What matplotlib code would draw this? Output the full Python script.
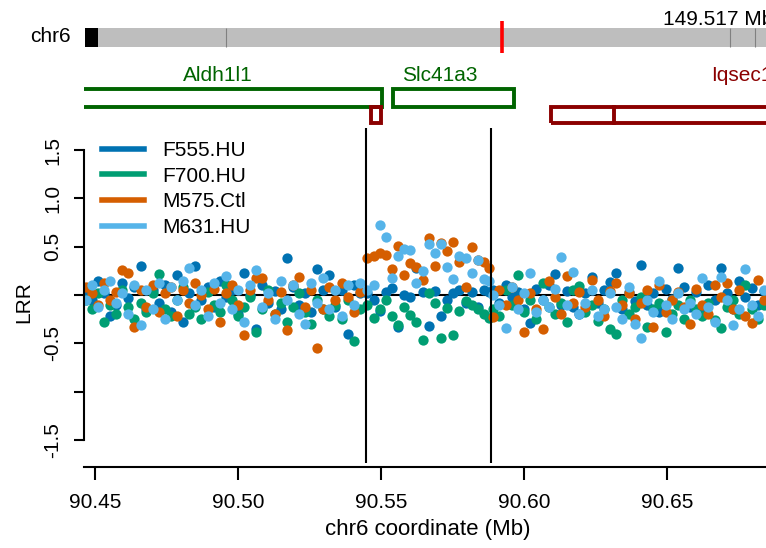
import matplotlib
matplotlib.use("Agg")
from matplotlib import pyplot as plt
from matplotlib.patches import Rectangle
from matplotlib.lines import Line2D
import numpy as np

plt.rcParams['font.family'] = ['Liberation Sans', 'DejaVu Sans']

# probe positions (Mb) on chr6
pos = [90.4468, 90.4489, 90.4511, 90.4530, 90.4553, 90.4574, 90.4594, 90.4617, 90.4638, 90.4660,
       90.4679, 90.4702, 90.4723, 90.4745, 90.4764, 90.4787, 90.4808, 90.4830, 90.4851, 90.4871,
       90.4894, 90.4915, 90.4936, 90.4957, 90.4979, 90.5000, 90.5021, 90.5043, 90.5064, 90.5085,
       90.5106, 90.5128, 90.5149, 90.5170, 90.5192, 90.5213, 90.5234, 90.5255, 90.5277, 90.5298,
       90.5319, 90.5340, 90.5362, 90.5383, 90.5404, 90.5425,
       90.5452, 90.5474, 90.5495, 90.5517, 90.5538, 90.5560, 90.5581, 90.5603, 90.5624, 90.5646,
       90.5667, 90.5689, 90.5710, 90.5731, 90.5753, 90.5774, 90.5796, 90.5817, 90.5839, 90.5860,
       90.5879,
       90.5893, 90.5914, 90.5936, 90.5957, 90.5979, 90.6000, 90.6022, 90.6043, 90.6065, 90.6086,
       90.6108, 90.6129, 90.6151, 90.6172, 90.6194, 90.6215, 90.6237, 90.6258, 90.6280, 90.6301,
       90.6323, 90.6344, 90.6366, 90.6387, 90.6409, 90.6430, 90.6452, 90.6473, 90.6495, 90.6516,
       90.6538, 90.6559, 90.6581, 90.6602, 90.6624, 90.6645, 90.6667, 90.6688, 90.6710, 90.6731,
       90.6753, 90.6774, 90.6796, 90.6817, 90.6839]

# log R ratio per sample
f555 = [0.05, -0.05, 0.15, 0.02, -0.22, -0.10, 0.12, -0.03, 0.08, 0.30,
        -0.15, 0.05, -0.08, 0.10, -0.18, 0.21, -0.28, 0.02, 0.30, -0.05,
        0.08, -0.12, 0.15, -0.02, 0.05, -0.20, 0.23, 0.00, -0.35, 0.10,
        -0.08, 0.04, -0.15, 0.38, 0.08, -0.10, 0.02, -0.18, 0.27, 0.05,
        0.21, -0.12, 0.05, -0.40, 0.10, 0.02,
        0.02, -0.05, -0.17, 0.03, 0.07, -0.33, 0.00, -0.02, 0.28, 0.03,
        -0.32, 0.04, -0.22, -0.05, 0.02, 0.05, -0.08, 0.03, -0.12, 0.05,
        0.03,
        0.05, -0.08, 0.10, -0.02, 0.03, -0.15, -0.29, 0.06, -0.05, 0.10,
        0.22, -0.10, 0.04, -0.12, -0.20, 0.02, 0.19, -0.08, 0.05, 0.13,
        0.23, -0.15, 0.03, -0.06, 0.31, -0.10, 0.02, -0.18, 0.06, -0.04,
        0.28, 0.08, -0.12, 0.03, -0.20, 0.10, -0.05, 0.28, 0.02, -0.14,
        0.14, -0.02, 0.07, -0.10, 0.04]
f700 = [-0.05, -0.15, 0.02, -0.28, -0.10, -0.20, 0.05, -0.12, -0.25, -0.08,
        -0.18, 0.02, 0.22, -0.15, -0.22, -0.05, 0.08, -0.20, -0.12, -0.25,
        0.03, -0.10, -0.18, 0.10, -0.05, -0.22, -0.12, -0.02, -0.38, -0.15,
        0.05, -0.20, -0.08, -0.28, -0.12, 0.02, -0.18, -0.30, -0.05, -0.15,
        -0.22, -0.10, -0.25, -0.05, -0.48, -0.15,
        -0.10, -0.24, -0.15, -0.05, -0.22, -0.31, -0.12, -0.21, -0.28, -0.47,
        0.02, -0.08, -0.45, -0.13, -0.41, -0.17, -0.06, -0.10, -0.14, -0.20,
        -0.24,
        -0.15, -0.22, 0.05, -0.10, 0.21, -0.18, -0.05, -0.25, 0.12, -0.12,
        -0.20, -0.08, -0.28, 0.05, 0.09, -0.18, -0.10, -0.27, -0.15, -0.35,
        -0.40, -0.05, -0.20, -0.12, -0.02, -0.33, -0.15, -0.08, -0.38, -0.20,
        -0.10, -0.25, -0.05, -0.15, -0.22, -0.08, -0.26, -0.34, -0.12, -0.05,
        -0.20, 0.10, -0.15, -0.25, -0.10]
m575 = [0.08, 0.02, -0.10, 0.12, -0.05, 0.03, 0.26, 0.23, -0.33, 0.05,
        -0.12, 0.10, -0.18, 0.02, 0.08, -0.22, 0.05, -0.08, 0.12, 0.00,
        -0.15, 0.06, -0.28, 0.02, 0.10, -0.10, -0.41, 0.05, 0.18, 0.18,
        -0.05, -0.20, 0.03, -0.36, 0.10, 0.19, -0.12, 0.05, -0.55, -0.15,
        0.08, -0.05, 0.12, -0.02, -0.18, 0.03,
        0.38, 0.40, 0.43, 0.41, 0.27, 0.51, 0.21, 0.33, 0.29, 0.16,
        0.59, 0.30, 0.54, 0.46, 0.55, 0.34, 0.08, 0.50, 0.36, 0.34,
        0.28,
        -0.23, 0.05, -0.10, 0.08, -0.05, -0.38, 0.02, -0.15, -0.35, 0.15,
        -0.02, -0.20, 0.20, -0.08, 0.03, -0.12, 0.16, -0.05, -0.22, 0.04,
        0.12, -0.10, 0.02, -0.25, -0.08, 0.05, -0.33, 0.10, -0.18, -0.05,
        0.03, -0.12, -0.30, 0.06, -0.10, -0.20, 0.10, -0.02, 0.12, -0.15,
        0.05, -0.22, -0.29, 0.16, -0.05]
m631 = [-0.05, 0.10, -0.12, 0.05, 0.15, -0.08, 0.02, -0.20, 0.10, -0.31,
        0.05, -0.15, 0.12, -0.25, 0.08, -0.05, 0.15, 0.28, -0.10, 0.05,
        -0.22, 0.12, -0.08, 0.20, -0.15, 0.05, -0.28, 0.10, 0.26, -0.12,
        0.02, -0.25, 0.15, -0.05, 0.10, -0.20, -0.30, 0.12, -0.08, 0.18,
        -0.15, 0.05, -0.22, 0.10, -0.10, 0.12,
        0.05, 0.10, 0.72, 0.60, 0.18, 0.40, 0.48, 0.47, 0.12, 0.25,
        0.53, 0.43, 0.53, 0.29, 0.17, 0.40, 0.38, 0.23, 0.36, 0.17,
        0.15,
        0.00, -0.10, -0.34, 0.08, -0.15, 0.02, 0.23, -0.18, -0.05, -0.12,
        0.06, 0.39, -0.10, 0.24, -0.20, -0.08, 0.05, -0.22, -0.15, 0.02,
        -0.12, -0.25, 0.08, -0.30, -0.44, -0.05, -0.18, 0.14, -0.10, -0.25,
        0.02, -0.15, -0.08, -0.20, 0.18, -0.12, -0.28, 0.19, -0.05, -0.31,
        -0.15, 0.27, -0.10, -0.22, 0.05]

samples = ['F555.HU', 'F700.HU', 'M575.Ctl', 'M631.HU']
colors = ['#0072B2', '#009E73', '#D55E00', '#56B4E9']

# genes: name, start, end, colour, row
genes = [('Aldh1l1', 90.4400, 90.5503, '#006400', 1),
         ('Slc41a3', 90.5542, 90.5965, '#006400', 1),
         ('', 90.5465, 90.5500, '#8B0000', 0),
         ('Iqsec1', 90.6094, 90.7400, '#8B0000', 0)]
iqsec_split = 90.6315
gene_label_x = {'Aldh1l1': 90.4930, 'Slc41a3': 90.5705, 'Iqsec1': 90.6762}

chrom_len = 149.517
region_mid = 90.567
chrom_marks = [30.6, 140.2, 145.6]
boundaries = [90.5448, 90.5885]

W, H = 766, 548
fig = plt.figure(figsize=(W / 100, H / 100), dpi=100)

def px_axes(l, t, r, b):
    return fig.add_axes([l / W, 1 - b / H, (r - l) / W, (b - t) / H])

# main LRR panel
ax = px_axes(84, 128, 766, 467)
xmin, xmax = 90.44615, 90.68462
ax.set_xlim(xmin, xmax)
ax.set_ylim(-1.7805, 1.7288)
ax.axhline(0, color='black', lw=1.5, zorder=1)
for s, c, vals in zip(samples, colors, [f555, f700, m575, m631]):
    ax.scatter(pos, vals, s=55, color=c, linewidths=0, zorder=2)
ax.vlines(boundaries, -1.74, 1.73, color='black', lw=1.5, zorder=3)

for sp in ['top', 'right']:
    ax.spines[sp].set_visible(False)
ax.spines['left'].set_bounds(-1.5, 1.5)
ax.spines['left'].set_linewidth(1.5)
ax.spines['bottom'].set_linewidth(1.5)
ax.set_yticks([1.5, 1.0, 0.5, 0, -0.5, -1.0, -1.5])
ax.set_yticklabels(['1.5', '1.0', '0.5', '', '-0.5', '', '-1.5'], rotation=90, va='center')
ax.set_xticks([90.45, 90.50, 90.55, 90.60, 90.65])
ax.set_xticklabels(['90.45', '90.50', '90.55', '90.60', '90.65'])
ax.tick_params(axis='both', labelsize=15, width=1.5, colors='black')
ax.tick_params(axis='x', length=9.5, pad=9)
ax.tick_params(axis='y', length=7.5, pad=8)

handles = [Line2D([], [], color=c, lw=4) for c in colors]
leg = ax.legend(handles, samples, loc='upper left', bbox_to_anchor=(102 / W, 1 - 141 / H),
                bbox_transform=fig.transFigure, frameon=False, fontsize=15,
                handlelength=2.0, handletextpad=0.9, labelspacing=0.32, borderaxespad=0,
                borderpad=0)

fig.text(428 / W, 1 - 530 / H, 'chr6 coordinate (Mb)', ha='center', va='center', fontsize=16)
fig.text(24 / W, 1 - 302 / H, 'LRR', ha='center', va='center', rotation=90, fontsize=15)

# gene track
gax = px_axes(84, 60, 766, 128)
gax.set_xlim(xmin, xmax)
gax.set_ylim(0, 1)
gax.axis('off')
rows = {1: (0.309, 0.265), 0: (0.074, 0.235)}
for name, start, end, c, row in genes:
    y0, h = rows[row]
    gax.add_patch(Rectangle((start, y0), end - start, h, fill=False, edgecolor=c, lw=2.8))
    if name:
        gax.text(gene_label_x[name], 0.77, name, color=c, fontsize=15, ha='center', va='center')
gax.plot([iqsec_split, iqsec_split], [0.074, 0.309], color='#8B0000', lw=2.8)

# chromosome ideogram
cax = fig.add_axes([85 / W, 1 - 58 / H, 688 / W, 48 / H])
cax.set_xlim(0, chrom_len)
cax.set_ylim(0, 1)
cax.axis('off')
cax.add_patch(Rectangle((0, 0.229), chrom_len, 0.396, color='#BEBEBE', lw=0))
cax.add_patch(Rectangle((0, 0.229), 2.9, 0.396, color='black', lw=0))
cax.vlines(chrom_marks, 0.229, 0.625, color='#808080', lw=0.8)
cax.vlines([region_mid], 0.104, 0.771, color='red', lw=2.6)
cax.text(chrom_len, 0.80, '%.3f Mb' % chrom_len, ha='right', va='center', fontsize=15)
fig.text(50 / W, 1 - 37 / H, 'chr6', ha='center', va='center', fontsize=15)

fig.savefig('out.png', dpi=100)
